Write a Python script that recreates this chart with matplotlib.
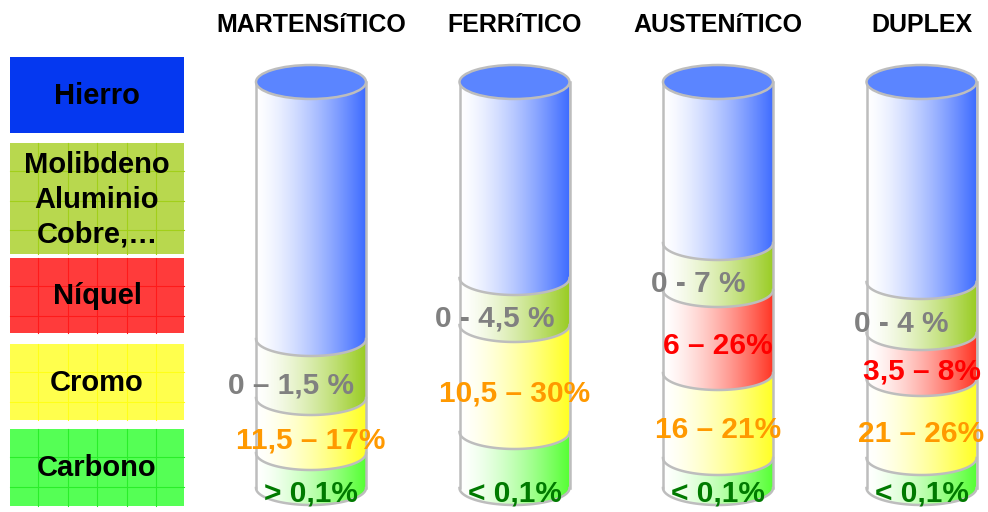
import numpy as np
import matplotlib
matplotlib.use('Agg')
from matplotlib import pyplot as plt
from matplotlib.patches import Polygon, Ellipse, Rectangle

plt.rcParams['font.family'] = ['Liberation Sans', 'DejaVu Sans']
plt.rcParams['font.weight'] = 'bold'

# tipos de acero
tipos = ['MARTENSíTICO', 'FERRíTICO', 'AUSTENíTICO', 'DUPLEX']

# altura visual de cada tramo del cilindro (de abajo arriba)
carbono = [35, 56, 30, 30]
cromo = [55, 107, 85, 79]
niquel = [0, 0, 83, 46]
otros = [59, 47, 47, 51]
hierro = [257, 196, 161, 200]

# textos de cada tramo
txt_carbono = ['> 0,1%', '< 0,1%', '< 0,1%', '< 0,1%']
txt_cromo = ['11,5 – 17%', '10,5 – 30%', '16 – 21%', '21 – 26%']
txt_niquel = ['', '', '6 – 26%', '3,5 – 8%']
txt_otros = ['0 – 1,5 %', '0 - 4,5 %', '0 - 7 %', '0 - 4 %']

# leyenda
leyenda = ['Hierro', 'Molibdeno\nAluminio\nCobre,…', 'Níquel', 'Cromo', 'Carbono']
col_leyenda = ['#0538F0', '#B8D84E', '#FF3B3B', '#FFFF4D', '#55FF55']
col_rejilla = [None, '#A2CF1A', '#FF1A1A', '#FFFF18', '#2AEE2A']
caja_y = [57, 143, 258, 344, 429]
caja_h = [76, 111, 75, 76, 77]

# colores de los tramos y de los textos
col_tramo = {'carbono': '#55FF33', 'cromo': '#FFFF22', 'niquel': '#FF3322',
             'otros': '#99CC22', 'hierro': '#3D6BFF'}
col_texto = {'carbono': '#007A00', 'cromo': '#FF9900', 'niquel': '#FF0000',
             'otros': '#808080'}

fig = plt.figure(figsize=(9.88, 5.12), dpi=100)
ax = fig.add_axes([0, 0, 1, 1])
ax.set_xlim(0, 988)
ax.set_ylim(512, 0)
ax.axis('off')

# --- leyenda de la izquierda ---
for nombre, c, cg, y0, h in zip(leyenda, col_leyenda, col_rejilla, caja_y, caja_h):
    ax.add_patch(Rectangle((10, y0), 174, h, facecolor=c, edgecolor='none', zorder=1))
    if cg is not None:
        for gx in np.arange(10 + 28, 184, 29.5):
            ax.plot([gx, gx], [y0, y0 + h], color=cg, lw=0.8, zorder=2)
        for gy in np.arange(y0 + 28, y0 + h, 29.5):
            ax.plot([10, 184], [gy, gy], color=cg, lw=0.8, zorder=2)
    ax.text(97, y0 + h / 2 + 1, nombre, ha='center', va='center', fontsize=21,
            fontweight='bold', color='black', linespacing=1.3, zorder=3)

# --- cilindros ---
rx, b = 55, 17
base = 488
borde = '#BDBDBD'
t = np.linspace(0, np.pi, 80)


def arco(cx, yc):
    return cx + rx * np.cos(t), yc + b * np.sin(t)


def gradiente(hexcol):
    rgb = np.array(matplotlib.colors.to_rgb(hexcol))
    f = np.linspace(0, 1, 256) ** 1.4
    img = (1 - f)[:, None] * np.ones(3) + f[:, None] * rgb
    return img[None, :, :]


for i, tipo in enumerate(tipos):
    cx = 311 + i * 203.5
    tramos = [('carbono', carbono[i], txt_carbono[i]),
              ('cromo', cromo[i], txt_cromo[i]),
              ('niquel', niquel[i], txt_niquel[i]),
              ('otros', otros[i], txt_otros[i]),
              ('hierro', hierro[i], '')]
    y = base
    for clave, h, txt in tramos:
        if h <= 0:
            continue
        top = y - h
        xa, ya = arco(cx, top)
        xb, yb = arco(cx, y)
        pts = np.vstack([np.column_stack([xa[::-1], ya[::-1]]),
                         np.column_stack([xb, yb])])
        poly = Polygon(pts, closed=True, facecolor='none', edgecolor='none')
        ax.add_patch(poly)
        im = ax.imshow(gradiente(col_tramo[clave]), extent=(cx - rx, cx + rx, y + b + 1, top - 1),
                       aspect='auto', interpolation='bilinear', zorder=3)
        im.set_clip_path(poly)
        # linea inferior del tramo
        ax.plot(xb, yb, color=borde, lw=1.8, zorder=4)
        if txt:
            if clave == 'carbono':
                ty, dx = base + 6, 0
            elif clave == 'otros':
                ty, dx = (top + y) / 2 + 17, -20
            else:
                ty, dx = (top + y) / 2 + 15, 0
            ax.text(cx + dx, ty, txt, ha='center', va='center', fontsize=21.5,
                    fontweight='bold', color=col_texto[clave], zorder=6)
        y = top
    # laterales y tapa
    ax.plot([cx - rx, cx - rx], [y, base], color=borde, lw=1.8, zorder=4)
    ax.plot([cx + rx, cx + rx], [y, base], color=borde, lw=1.8, zorder=4)
    ax.add_patch(Ellipse((cx, y), 2 * rx, 2 * b, facecolor='#5B85FF',
                         edgecolor=borde, lw=1.8, zorder=5))
    ax.text(cx, 25, tipo, ha='center', va='center', fontsize=18,
            fontweight='bold', color='black')

fig.savefig('out.png', dpi=100)
